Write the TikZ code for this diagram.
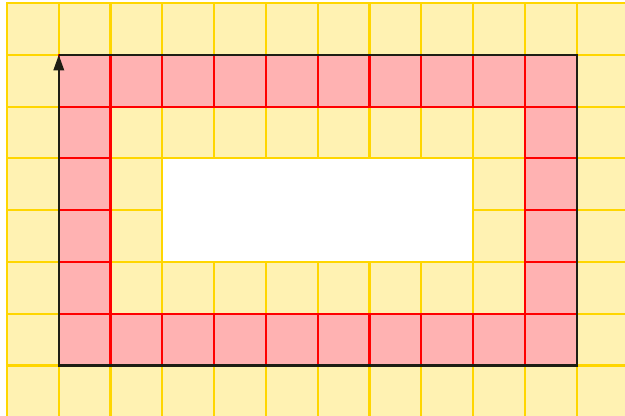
\documentclass[tikz,border=0pt]{standalone}
\usetikzlibrary{arrows.meta}
\definecolor{cellyellow}{RGB}{255,242,178}
\definecolor{gridgold}{RGB}{255,214,0}
\definecolor{cellpink}{RGB}{255,178,178}
\definecolor{cellred}{RGB}{255,0,0}
\definecolor{framedark}{RGB}{30,30,20}
\begin{document}
\begin{tikzpicture}[
  >={Triangle[length=3mm,width=2mm]},
  yellowcell/.style={fill=cellyellow, draw=gridgold, line width=1.2pt},
  redcell/.style={fill=cellpink, draw=cellred, line width=1.2pt},
  frame/.style={draw=framedark, line width=1.2pt}
]
  \useasboundingbox (-0.135,0.027) rectangle (11.931,8.058);

  % Yellow grid
  \foreach \x in {0,...,11}
    \foreach \y in {0,...,7}
      \draw[yellowcell] (\x,\y) rectangle ++(1,1);

  % White hole in the middle
  \draw[fill=white, draw=gridgold, line width=1.2pt] (3,3) rectangle (9,5);

  % Red ring: top and bottom rows
  \foreach \x in {1,...,10}
    \foreach \y in {1,6}
      \draw[redcell] (\x,\y) rectangle ++(1,1);
  % Red ring: left and right columns
  \foreach \x in {1,10}
    \foreach \y in {2,...,5}
      \draw[redcell] (\x,\y) rectangle ++(1,1);

  % Outer frame with arrow
  \coordinate (tl) at (1,7);
  \coordinate (tr) at (11,7);
  \coordinate (br) at (11,1);
  \coordinate (bl) at (1,1);
  \draw[frame,->] (tl) -- (tr) -- (br) -- (bl) -- (tl);
\end{tikzpicture}
\end{document}
